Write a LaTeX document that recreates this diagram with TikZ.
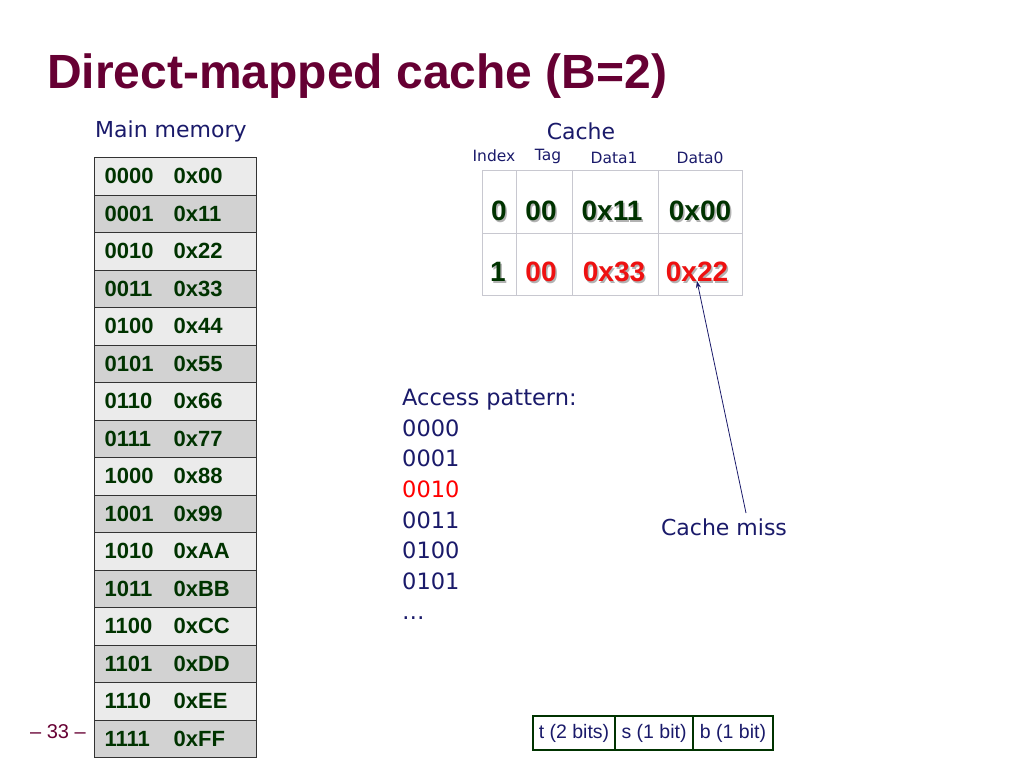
\documentclass[tikz,border=0pt]{standalone}
\usepackage{fontspec}
\setmainfont{Liberation Sans}
\newfontfamily\labfont{DejaVu Sans}
\usetikzlibrary{arrows.meta}
\definecolor{navy}{HTML}{1A1A6A}
\definecolor{titlec}{HTML}{660033}
\definecolor{dgreen}{HTML}{003300}
\definecolor{cred}{HTML}{EE1111}
\definecolor{rowlight}{HTML}{EBEBEB}
\definecolor{rowdark}{HTML}{D2D2D2}
\definecolor{cachegrid}{HTML}{C8C8D0}
\newcommand\shd[1]{\rlap{\smash{\hspace{1.5pt}\raisebox{-1.5pt}{\color{black!30}#1}}}#1}
\newcommand\fs[1]{\fontsize{#1}{#1}\selectfont}
\begin{document}
\begin{tikzpicture}[x=1pt,y=-1pt,
  lab/.style={text=navy,font=\labfont\fs{22}},
  hdr/.style={text=navy,font=\labfont\fs{15.5},inner sep=0},
  memrow/.style={draw=black!80,line width=1.3pt,anchor=north west,minimum width=162,minimum height=37.5,
     text width=142,inner xsep=10,inner ysep=0,align=left,text=dgreen,font=\bfseries\fs{22}},
  cell/.style={draw=cachegrid,line width=0.8pt,minimum height=#1,inner sep=0},
  celltxt/.style={font=\bfseries\fs{28},inner sep=0},
  bitbox/.style={draw=dgreen,line width=1.8pt,minimum height=34,inner sep=0,text=navy,font=\fs{19.5}}]
\useasboundingbox (0,0) rectangle (1024,768);
% title
\node[anchor=base west,inner sep=0,text=titlec,font=\bfseries\fs{48}] (title) at (47,88) {Direct-mapped cache (B=2)};
% main memory
\node[lab,anchor=west,inner sep=0] (mmlab) at (95,131) {Main memory};
\foreach \a/\v [count=\i from 0] in {0000/0x00,0001/0x11,0010/0x22,0011/0x33,0100/0x44,0101/0x55,0110/0x66,0111/0x77,1000/0x88,1001/0x99,1010/0xAA,1011/0xBB,1100/0xCC,1101/0xDD,1110/0xEE,1111/0xFF}{
  \ifodd\i\def\rf{rowdark}\else\def\rf{rowlight}\fi
  \node[memrow,fill=\rf] (m\i) at (94,157+37.5*\i) {\makebox[69pt][l]{\a}\v};
}
\node[anchor=center,inner sep=0,text=titlec,font=\fs{20}] (pg) at (58,732) {– 33 –};
% cache
\node[lab,inner sep=0] (cachelab) at (581,131) {Cache};
\node[hdr] (hidx) at (494,156) {Index};
\node[hdr] (htag) at (548,156) {Tag};
\node[hdr] (hd1) at (614,158) {Data1};
\node[hdr] (hd0) at (700,158) {Data0};
\node[cell=63,minimum width=34] (c00) at (499,201.5) {};
\node[cell=63,minimum width=56] (c01) at (544,201.5) {};
\node[cell=63,minimum width=86] (c02) at (615,201.5) {};
\node[cell=63,minimum width=84] (c03) at (700,201.5) {};
\node[cell=62,minimum width=34] (c10) at (499,264) {};
\node[cell=62,minimum width=56] (c11) at (544,264) {};
\node[cell=62,minimum width=86] (c12) at (615,264) {};
\node[cell=62,minimum width=84] (c13) at (700,264) {};
\node[celltxt,text=dgreen] (t00) at (499,211) {\shd{0}};
\node[celltxt,text=dgreen] (t01) at (541,211) {\shd{00}};
\node[celltxt,text=dgreen] (t02) at (612,211) {\shd{0x11}};
\node[celltxt,text=dgreen] (t03) at (700,211) {\shd{0x00}};
\node[celltxt,text=dgreen] (t10) at (498,272) {\shd{1}};
\node[celltxt,text=cred] (t11) at (541,272) {\shd{00}};
\node[celltxt,text=cred] (t12) at (614,272) {\shd{0x33}};
\node[celltxt,text=cred] (t13) at (697,272) {\shd{0x22}};
% access pattern
\node[lab,anchor=north west,inner sep=0,align=left,font=\labfont\fontsize{22.5}{30.6}\selectfont] (acc) at (402,389)
  {Access pattern:\\0000\\0001\\\textcolor{red}{0010}\\0011\\0100\\0101\\…};
% cache miss
\node[lab,inner sep=0] (miss) at (724,527) {Cache miss};
\coordinate (missfoot) at (746,513);
\coordinate (misstip) at (697,281);
\draw[navy,line width=0.8pt,-{Stealth[length=7pt,width=5pt]}] (missfoot) -- (misstip);
% address bits
\node[bitbox,minimum width=82] (bt) at (574,733) {t (2 bits)};
\node[bitbox,minimum width=78] (bs) at (654,733) {s (1 bit)};
\node[bitbox,minimum width=80] (bb) at (733,733) {b (1 bit)};
\end{tikzpicture}
\end{document}
